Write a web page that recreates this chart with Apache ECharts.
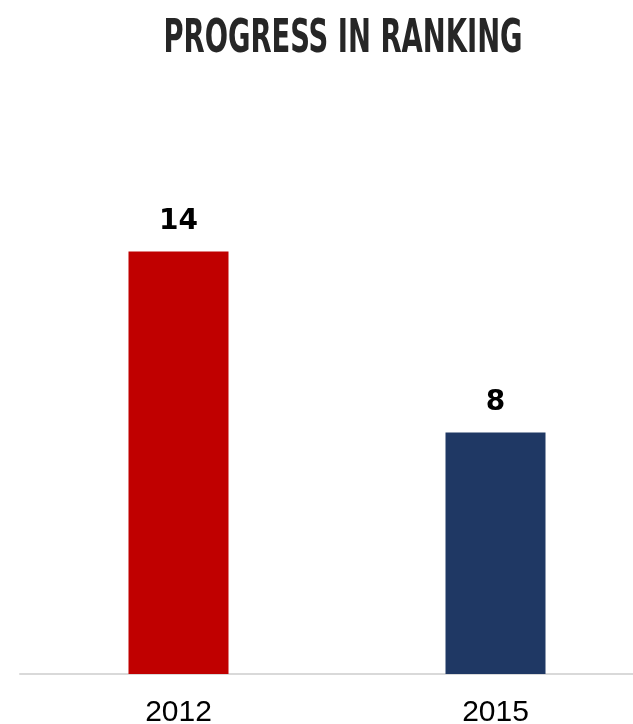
<!DOCTYPE html>
<html><head><meta charset="utf-8">
<script src="https://cdn.jsdelivr.net/npm/echarts@6/dist/echarts.min.js"></script>
<style>html,body{margin:0;padding:0;background:#fff}#c{width:633px;height:724px}</style>
</head><body><div id="c"></div>
<script>
const titleText = 'PROGRESS IN RANKING';
const categories = ['2012', '2015'];
const values = [14, 8];
const barColors = ['#c00000', '#1f3864'];

const chart = echarts.init(document.getElementById('c'));
chart.setOption({
  animation: false,
  graphic: [{
    type: 'text', x: 343, y: 17,
    scaleX: 0.662, originX: 0, originY: 0,
    style: { text: titleText, textAlign: 'center', font: 'bold 46px "Liberation Sans Narrow", "DejaVu Sans Condensed", sans-serif', fill: '#262626' }
  }],
  grid: { left: 20, width: 634, top: 191, height: 483, outerBoundsMode: 'none', containLabel: false },
  xAxis: {
    type: 'category', data: categories,
    axisLine: { lineStyle: { color: '#d9d9d9', width: 2 } },
    axisTick: { show: false },
    axisLabel: { color: '#000', fontSize: 30, fontFamily: 'Liberation Sans, Arial, sans-serif', margin: 24 }
  },
  yAxis: { type: 'value', min: 0, max: 16, show: false, splitLine: { show: false } },
  series: [{
    type: 'bar', barWidth: 100,
    data: values.map((v, i) => ({ value: v, itemStyle: { color: barColors[i] } })),
    label: { show: true, position: 'top', distance: 16, color: '#000', fontSize: 28, fontWeight: 'bold', fontFamily: 'DejaVu Sans, sans-serif' }
  }]
});
</script></body></html>
